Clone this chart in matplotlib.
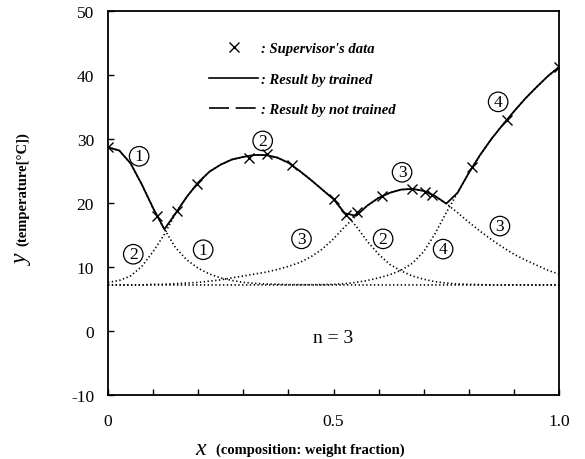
import numpy as np
import matplotlib
matplotlib.use('Agg')
import matplotlib.pyplot as plt
from matplotlib.lines import Line2D

plt.rcParams['font.family'] = ['Liberation Serif', 'DejaVu Serif']
plt.rcParams['axes.unicode_minus'] = False

# x grid of the network output curves (composition, weight fraction)
xs = [0.0, 0.025, 0.05, 0.075, 0.1, 0.125, 0.15, 0.175, 0.2, 0.225,
      0.25, 0.275, 0.3, 0.325, 0.35, 0.375, 0.4, 0.425, 0.45, 0.475,
      0.5, 0.525, 0.55, 0.575, 0.6, 0.625, 0.65, 0.675, 0.7, 0.725,
      0.75, 0.775, 0.8, 0.825, 0.85, 0.875, 0.9, 0.925, 0.95, 0.975, 1.0]

# the four component curves (1)..(4), temperature in C
c1 = [28.7, 28.2, 26.2, 22.9, 19.2, 15.9, 13.0, 11.1, 9.8, 8.9,
      8.3, 7.9, 7.6, 7.45, 7.35, 7.3, 7.25, 7.25, 7.2, 7.2,
      7.2, 7.2, 7.2, 7.2, 7.2, 7.2, 7.2, 7.2, 7.2, 7.2,
      7.2, 7.2, 7.2, 7.2, 7.2, 7.2, 7.2, 7.2, 7.2, 7.2, 7.2]
c2 = [7.6, 7.9, 8.6, 10.1, 12.4, 15.1, 18.4, 21.0, 23.2, 24.9,
      26.0, 26.8, 27.2, 27.5, 27.5, 27.1, 26.3, 25.0, 23.6, 22.1,
      20.6, 18.4, 16.4, 14.0, 12.0, 10.4, 9.4, 8.6, 8.1, 7.7,
      7.5, 7.35, 7.3, 7.25, 7.2, 7.2, 7.2, 7.2, 7.2, 7.2, 7.2]
c3 = [7.2, 7.2, 7.2, 7.2, 7.3, 7.3, 7.4, 7.5, 7.6, 7.8,
      8.0, 8.3, 8.6, 8.9, 9.2, 9.6, 10.1, 10.7, 11.6, 12.8,
      14.4, 16.3, 18.0, 19.6, 20.8, 21.6, 22.1, 22.2, 21.9, 21.1,
      19.9, 18.5, 17.0, 15.6, 14.3, 13.1, 12.0, 11.1, 10.3, 9.5, 8.9]
c4 = [7.2, 7.2, 7.2, 7.2, 7.2, 7.2, 7.2, 7.2, 7.2, 7.2,
      7.2, 7.2, 7.2, 7.2, 7.2, 7.2, 7.2, 7.2, 7.25, 7.25,
      7.3, 7.4, 7.6, 7.9, 8.3, 8.8, 9.5, 10.6, 12.4, 15.2,
      18.5, 21.6, 24.7, 27.5, 30.0, 32.2, 34.3, 36.3, 38.1, 39.8, 41.25]

# supervisor's data
sx = [0.0, 0.109, 0.153, 0.197, 0.313, 0.352, 0.408, 0.501, 0.528, 0.552,
      0.608, 0.674, 0.703, 0.718, 0.807, 0.884, 1.0]
sy = [28.7, 18.0, 18.75, 23.0, 27.0, 27.6, 25.9, 20.6, 18.1, 18.6,
      21.1, 22.2, 21.7, 21.25, 25.6, 33.0, 41.25]

# circled labels: (text, x, y)
tags = [('1', 0.069, 27.3), ('2', 0.056, 12.0), ('1', 0.211, 12.7),
        ('2', 0.343, 29.7), ('3', 0.429, 14.4), ('2', 0.61, 14.4),
        ('3', 0.652, 24.8), ('4', 0.743, 12.8), ('4', 0.865, 35.8),
        ('3', 0.869, 16.4)]

fig = plt.figure(figsize=(5.85, 4.6), dpi=100)
ax = fig.add_axes([0.1846, 0.139, 0.771, 0.835])

comps = np.array([c1, c2, c3, c4])
for c in comps:
    ax.plot(xs, c, color='black', lw=1.2, dashes=(0.8, 1.5))
ax.plot(xs, comps.max(axis=0), color='black', lw=1.3)
ax.plot(sx, sy, ls='none', marker='x', ms=7, mew=1.0, color='black')

for t, x, y in tags:
    ax.text(x, y, t, fontsize=12.5, ha='center', va='center',
            bbox=dict(boxstyle='circle,pad=0.1', fc='none', ec='black', lw=0.9))

ax.text(0.5, -1.0, 'n = 3', fontsize=14, ha='center', va='center')

handles = [Line2D([], [], ls='none', marker='x', ms=7, mew=1.0, color='black'),
           Line2D([], [], ls='-', lw=1.2, color='black'),
           Line2D([], [], ls='--', lw=1.2, dashes=(12, 4), color='black')]
labels = [": Supervisor's data", ': Result by trained', ': Result by not trained']
ax.legend(handles, labels, loc='upper left', bbox_to_anchor=(0.225, 0.92),
          frameon=False, borderpad=0, borderaxespad=0, handlelength=3.3,
          handletextpad=0.25, labelspacing=1.2,
          prop=dict(family='Liberation Serif', weight='bold', style='italic', size=10.5))

ax.set_xlim(0, 1.0)
ax.set_ylim(-10, 50)
ax.set_xticks([0, 0.5, 1.0])
ax.set_xticklabels(['0', '0.5', '1.0'])
ax.set_xticks(np.arange(0.1, 1.0, 0.1), minor=True)
ax.set_yticks(range(-10, 51, 10))
ax.tick_params(direction='in', length=4, width=1, labelsize=12.5)
ax.tick_params(axis='x', which='major', pad=13)
ax.tick_params(axis='y', pad=10)
ax.tick_params(axis='x', which='minor', direction='in', length=4, width=1)
for s in ax.spines.values():
    s.set_linewidth(1.3)

# axis titles
ax.text(0.205, -0.14, 'x', transform=ax.transAxes, fontsize=17, style='italic',
        ha='center', va='center')
ax.text(0.24, -0.14, '(composition: weight fraction)', transform=ax.transAxes,
        fontsize=10.5, weight='bold', ha='left', va='center')
ax.text(-0.19, 0.355, 'y', transform=ax.transAxes, fontsize=17, style='italic',
        rotation=90, ha='center', va='center')
ax.text(-0.19, 0.39, '(temperature[°C])', transform=ax.transAxes, fontsize=10.5,
        weight='bold', rotation=90, ha='center', va='bottom')

fig.savefig('out.png', dpi=100)
